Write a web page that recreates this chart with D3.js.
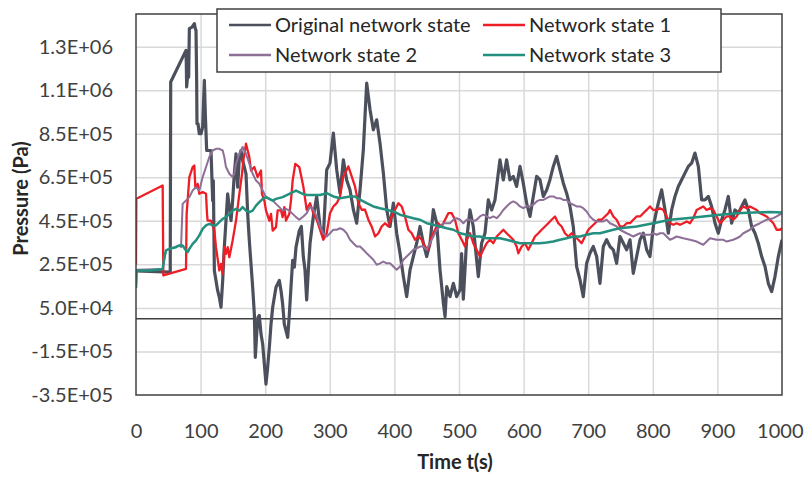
<!DOCTYPE html>
<html>
<head>
<meta charset="utf-8">
<script src="https://cdn.jsdelivr.net/npm/d3@7"></script>
<style>
  html, body { margin: 0; padding: 0; background: #ffffff; }
  svg { display: block; }
  text { font-family: Lato, "Open Sans", sans-serif; }
</style>
</head>
<body>
<svg id="chart" width="804" height="477"></svg>
<script>
// ---- data -------------------------------------------------------------
const seriesNames = ["Original network state", "Network state 1", "Network state 2", "Network state 3"];

const xTickValues = [0, 100, 200, 300, 400, 500, 600, 700, 800, 900, 1000];
const yTickValues = [-350000, -150000, 50000, 250000, 450000, 650000, 850000, 1050000, 1250000];
const yTickLabels = ["-3.5E+05", "-1.5E+05", "5.0E+04", "2.5E+05", "4.5E+05", "6.5E+05", "8.5E+05", "1.1E+06", "1.3E+06"];

// [time (s), pressure (Pa)]
const originalState = [[0,220e3],[53,214e3],[53.7,1088e3],[77.4,1233e3],[77.9,1172e3],[78.4,1065e3],[80,1118e3],[81.5,1110e3],[82.6,1333e3],[86.7,1340e3],[90.3,1356e3],[91.8,1333e3],[92.9,1325e3],[93.9,1095e3],[94.4,896e3],[96,896e3],[98,850e3],[100.6,850e3],[103.2,881e3],[105.8,1095e3],[107.3,942e3],[109.4,773e3],[116.1,773e3],[118.7,543e3],[119.7,635e3],[121.3,221e3],[123.8,176e3],[126.4,129e3],[129,99e3],[131.6,53e3],[134.2,176e3],[136.7,329e3],[139.3,451e3],[141.9,574e3],[144.5,513e3],[147.1,451e3],[149.6,543e3],[152.2,666e3],[154.8,758e3],[157.4,605e3],[160,743e3],[162.5,773e3],[165.1,727e3],[167.7,697e3],[170.3,666e3],[172.9,482e3],[175.4,360e3],[178,252e3],[180.6,145e3],[183.2,22e3],[184.7,-177e3],[186.8,-70e3],[188.9,7e3],[190.9,15e3],[193.5,-70e3],[196.1,-116e3],[198.7,-208e3],[201.2,-300e3],[203.8,-223e3],[206.4,-131e3],[209,-24e3],[211.6,53e3],[216.7,145e3],[221.9,176e3],[224.5,129e3],[227,68e3],[229.6,-24e3],[232.2,-54e3],[234.8,-85e3],[237.4,22e3],[239.9,145e3],[242.5,268e3],[245.1,237e3],[247.7,329e3],[252.8,405e3],[256,424e3],[259,286e3],[261.6,225e3],[264.2,87e3],[266.8,225e3],[269.4,347e3],[274.5,470e3],[279.7,562e3],[284.9,424e3],[290,378e3],[295.2,684e3],[300.3,715e3],[305.5,853e3],[310.7,684e3],[315.8,577e3],[321,730e3],[326.1,638e3],[331.3,592e3],[336.5,501e3],[341.6,439e3],[346.8,592e3],[351.9,776e3],[357.1,1083e3],[362.3,960e3],[367.4,868e3],[372.6,914e3],[377.7,807e3],[382.9,669e3],[388.1,501e3],[393.2,424e3],[398.4,531e3],[403.5,393e3],[408.7,301e3],[413.9,194e3],[419,102e3],[424.2,225e3],[429.3,286e3],[434.5,347e3],[439.7,424e3],[444.8,347e3],[450,286e3],[455.1,347e3],[460.3,501e3],[465.5,439e3],[470.6,225e3],[475.8,72e3],[478.4,10e3],[481,148e3],[486.1,102e3],[491.3,163e3],[496.4,102e3],[501.6,133e3],[504,300e3],[506.7,90e3],[511.8,363e3],[517,500e3],[522.1,424e3],[527.3,271e3],[529.9,194e3],[535,347e3],[540.2,393e3],[545.4,546e3],[550.5,500e3],[555.7,546e3],[560.8,669e3],[563.4,730e3],[568.6,638e3],[573.7,730e3],[578.9,638e3],[584.1,654e3],[589.2,608e3],[594.4,700e3],[599.5,623e3],[604.7,531e3],[609.9,470e3],[615,562e3],[620.2,654e3],[625.3,639e3],[630.5,562e3],[635.7,592e3],[640.8,639e3],[646,700e3],[651.1,746e3],[656.3,684e3],[661.5,623e3],[666.6,577e3],[671.8,516e3],[676.9,424e3],[682.1,240e3],[687.3,179e3],[692.4,102e3],[697.6,255e3],[702.7,301e3],[707.9,332e3],[713.1,286e3],[718.2,163e3],[723.4,332e3],[728.5,363e3],[733.7,332e3],[738.9,317e3],[744,255e3],[749.2,378e3],[754.4,347e3],[759.5,317e3],[764.7,363e3],[769.8,209e3],[775,286e3],[780.2,363e3],[785.3,393e3],[790.5,317e3],[795.6,286e3],[800.8,424e3],[806,500e3],[811.1,562e3],[813.7,592e3],[818.9,500e3],[824,393e3],[829.2,500e3],[834.3,562e3],[839.5,608e3],[844.7,639e3],[849.8,669e3],[855,700e3],[860.1,715e3],[865.3,761e3],[870.5,700e3],[875.6,546e3],[880.8,546e3],[886,562e3],[891.1,516e3],[896.3,439e3],[901.4,393e3],[906.6,455e3],[911.7,500e3],[916.9,562e3],[922.1,439e3],[927.2,500e3],[932.4,485e3],[937.5,516e3],[942.7,546e3],[947.9,500e3],[953,424e3],[958.2,393e3],[963.3,347e3],[968.5,286e3],[973.7,240e3],[978.8,163e3],[984,125e3],[989.1,194e3],[994.3,286e3],[1000,363e3]];

const networkState1 = [[0,250e3],[0.5,551e3],[41.3,612e3],[42.3,199e3],[77.4,229e3],[78.4,482e3],[82.6,651e3],[87.7,697e3],[90.3,704e3],[91.8,605e3],[95.5,620e3],[98,574e3],[103.2,582e3],[108.4,574e3],[109.9,482e3],[110.9,451e3],[116.1,451e3],[121.3,405e3],[123.8,329e3],[129,222e3],[131.6,252e3],[134.2,206e3],[136.7,329e3],[139.3,298e3],[141.9,329e3],[144.5,283e3],[149.6,360e3],[152.2,405e3],[154.8,451e3],[160,574e3],[164.1,666e3],[166.1,727e3],[170.3,804e3],[172.9,773e3],[175.4,743e3],[178,681e3],[183.2,697e3],[188.3,651e3],[193.5,681e3],[195,574e3],[198.7,543e3],[201.2,498e3],[206.4,451e3],[209,482e3],[211.6,405e3],[216.7,421e3],[219.3,498e3],[224.5,498e3],[227,467e3],[229.6,513e3],[232.2,451e3],[237.4,482e3],[239.9,543e3],[242.5,635e3],[246.6,712e3],[252.8,697e3],[259,608e3],[264.2,501e3],[269.4,531e3],[274.5,485e3],[279.7,455e3],[284.9,409e3],[290,363e3],[295.2,393e3],[300.3,485e3],[305.5,516e3],[310.7,531e3],[315.8,562e3],[321,654e3],[328.7,700e3],[333.9,654e3],[339,608e3],[344.2,531e3],[349.4,501e3],[354.5,501e3],[359.7,455e3],[364.8,424e3],[370,378e3],[375.2,393e3],[380.3,424e3],[385.5,439e3],[390.6,424e3],[395.8,470e3],[401,501e3],[406.1,531e3],[411.3,516e3],[416.4,470e3],[421.6,409e3],[426.8,393e3],[431.9,363e3],[437.1,378e3],[442.2,363e3],[447.4,332e3],[452.6,317e3],[457.7,378e3],[462.9,409e3],[468,439e3],[473.2,424e3],[478.4,455e3],[483.5,485e3],[488.7,485e3],[493.8,455e3],[499,393e3],[504.2,363e3],[509.3,332e3],[511.8,363e3],[517,393e3],[522.1,347e3],[527.3,317e3],[532.5,286e3],[537.6,317e3],[542.8,347e3],[547.9,363e3],[553.1,347e3],[558.3,378e3],[563.4,393e3],[568.6,409e3],[573.7,393e3],[578.9,378e3],[584.1,363e3],[589.2,332e3],[591.8,301e3],[597,332e3],[602.1,347e3],[607.3,317e3],[612.4,347e3],[617.6,378e3],[622.8,393e3],[627.9,409e3],[633.1,424e3],[638.2,439e3],[643.4,455e3],[648.6,470e3],[653.7,439e3],[658.9,424e3],[664,393e3],[669.2,378e3],[674.4,393e3],[679.5,378e3],[684.7,363e3],[689.8,347e3],[695,378e3],[700.2,409e3],[705.3,424e3],[710.5,439e3],[715.6,455e3],[720.8,455e3],[725.9,470e3],[731.1,485e3],[733.7,500e3],[738.9,470e3],[744,455e3],[749.2,424e3],[754.4,424e3],[759.5,439e3],[764.7,439e3],[769.8,455e3],[775,470e3],[780.2,470e3],[785.3,485e3],[790.5,500e3],[795.6,516e3],[800.8,500e3],[806,500e3],[811.1,508e3],[816.3,500e3],[821.4,470e3],[826.6,439e3],[831.8,432e3],[836.9,439e3],[842.1,432e3],[847.2,439e3],[852.4,447e3],[857.6,439e3],[862.7,462e3],[867.9,500e3],[873,508e3],[878.2,516e3],[883.4,500e3],[888.5,508e3],[893.7,500e3],[898.8,470e3],[904,439e3],[909.2,455e3],[914.3,470e3],[919.5,470e3],[924.6,455e3],[929.8,470e3],[935,500e3],[940.1,516e3],[945.3,508e3],[950.4,516e3],[955.6,508e3],[960.8,500e3],[965.9,485e3],[971.1,478e3],[976.2,470e3],[981.4,455e3],[986.6,439e3],[991.7,409e3],[996.8,409e3],[1000,416e3]];

const networkState2 = [[0,142e3],[1,225e3],[41.3,229e3],[46.4,314e3],[67.1,337e3],[69.7,329e3],[72.2,528e3],[77.4,543e3],[82.6,559e3],[87.7,589e3],[92.9,605e3],[98,589e3],[103.2,651e3],[108.4,697e3],[113.5,743e3],[118.7,773e3],[123.8,781e3],[129,781e3],[134.2,773e3],[136.7,743e3],[139.3,697e3],[144.5,666e3],[149.6,651e3],[152.2,666e3],[154.8,712e3],[160,758e3],[165.1,789e3],[170.3,758e3],[175.4,712e3],[180.6,666e3],[185.8,635e3],[190.9,620e3],[196.1,589e3],[201.2,559e3],[206.4,551e3],[211.6,543e3],[216.7,528e3],[221.9,513e3],[227,497e3],[232.2,505e3],[237.4,497e3],[242.5,482e3],[247.7,467e3],[252.8,455e3],[259,470e3],[264.2,485e3],[269.4,516e3],[274.5,501e3],[279.7,470e3],[284.9,424e3],[290,393e3],[295.2,378e3],[300.3,393e3],[305.5,409e3],[310.7,409e3],[315.8,416e3],[321,409e3],[326.1,393e3],[331.3,363e3],[336.5,347e3],[341.6,332e3],[346.8,332e3],[351.9,317e3],[357.1,301e3],[362.3,286e3],[367.4,271e3],[372.6,248e3],[377.7,255e3],[382.9,263e3],[388.1,255e3],[393.2,255e3],[398.4,240e3],[403.5,225e3],[408.7,240e3],[413.9,271e3],[419,286e3],[424.2,301e3],[429.3,317e3],[434.5,324e3],[439.7,332e3],[444.8,332e3],[450,317e3],[455.1,347e3],[460.3,378e3],[465.5,409e3],[470.6,424e3],[475.8,439e3],[481,439e3],[486.1,439e3],[491.3,455e3],[496.4,462e3],[501.6,455e3],[506.7,439e3],[511.8,455e3],[517,455e3],[522.1,447e3],[527.3,455e3],[532.5,470e3],[537.6,478e3],[542.8,470e3],[547.9,462e3],[553.1,470e3],[558.3,462e3],[563.4,478e3],[568.6,500e3],[573.7,516e3],[578.9,531e3],[584.1,539e3],[589.2,531e3],[594.4,516e3],[599.5,508e3],[604.7,516e3],[609.9,516e3],[615,524e3],[620.2,539e3],[625.3,546e3],[630.5,546e3],[635.7,554e3],[640.8,562e3],[646,562e3],[651.1,554e3],[656.3,554e3],[661.5,546e3],[666.6,546e3],[671.8,531e3],[676.9,524e3],[682.1,516e3],[687.3,516e3],[692.4,508e3],[697.6,493e3],[702.7,470e3],[707.9,455e3],[713.1,447e3],[718.2,447e3],[723.4,447e3],[728.5,455e3],[733.7,439e3],[738.9,432e3],[744,424e3],[749.2,409e3],[754.3,401e3],[759.5,393e3],[764.7,386e3],[769.8,378e3],[775,386e3],[780.2,393e3],[785.3,386e3],[795.6,386e3],[800.8,393e3],[806,386e3],[811.1,393e3],[816.3,393e3],[821.4,378e3],[826.6,363e3],[831.8,370e3],[836.9,378e3],[847.2,370e3],[857.6,363e3],[867.9,355e3],[873,347e3],[878.2,340e3],[883.4,355e3],[888.5,370e3],[898.8,363e3],[909.2,363e3],[914.3,355e3],[924.6,363e3],[929.8,370e3],[935,378e3],[940.1,393e3],[945.3,401e3],[950.4,409e3],[955.6,424e3],[960.8,432e3],[965.9,439e3],[971.1,447e3],[976.2,455e3],[986.6,462e3],[991.7,470e3],[1000,485e3]];

const networkState3 = [[0,142e3],[1,222e3],[20.6,222e3],[41.3,229e3],[43.9,283e3],[46.4,314e3],[51.6,321e3],[61.9,329e3],[67.1,337e3],[72.2,337e3],[77.4,314e3],[80,306e3],[82.6,321e3],[87.7,344e3],[92.9,360e3],[98,383e3],[103.2,413e3],[108.4,429e3],[113.5,436e3],[118.7,429e3],[123.8,429e3],[129,444e3],[134.2,459e3],[139.3,467e3],[144.5,482e3],[149.6,497e3],[154.8,505e3],[160,497e3],[165.1,513e3],[170.3,497e3],[175.4,490e3],[180.6,497e3],[185.8,520e3],[190.9,536e3],[196.1,551e3],[201.2,559e3],[206.4,551e3],[211.6,543e3],[216.7,551e3],[227,559e3],[237.4,574e3],[247.7,589e3],[258,574e3],[264.2,569e3],[274.5,569e3],[284.9,569e3],[295.2,577e3],[305.5,562e3],[315.8,554e3],[331.3,562e3],[339,562e3],[346.8,547e3],[357.1,531e3],[367.4,516e3],[377.7,508e3],[388.1,501e3],[398.4,493e3],[408.7,478e3],[419,470e3],[429.3,462e3],[439.7,455e3],[450,439e3],[460.3,432e3],[470.6,424e3],[481,416e3],[491.3,409e3],[501.6,393e3],[511.8,386e3],[522.1,378e3],[532.5,378e3],[542.8,370e3],[563.4,370e3],[573.7,363e3],[584.1,355e3],[594.4,347e3],[615,347e3],[625.3,347e3],[635.7,350e3],[646,355e3],[656.3,363e3],[666.6,370e3],[676.9,378e3],[687.3,378e3],[697.6,386e3],[707.9,393e3],[718.2,393e3],[728.5,401e3],[738.9,409e3],[749.2,416e3],[775,424e3],[800.8,439e3],[826.6,455e3],[852.4,462e3],[878.2,470e3],[904,478e3],[929.8,485e3],[955.6,488e3],[981.4,490e3],[1000,488e3]];

const seriesData = [originalState, networkState1, networkState2, networkState3];
const seriesColors = ["#4b505c", "#ee1d26", "#8d6f97", "#23907f"];
const seriesWidths = [3.2, 2.3, 2, 2.5];

// ---- layout -----------------------------------------------------------
const svg = d3.select("#chart");
const plot = { left: 136, top: 14, right: 782, bottom: 395 };

const x = d3.scaleLinear().domain([0, 1000]).range([plot.left, plot.right]);
const y = d3.scaleLinear().domain([-350000, 1400000]).range([plot.bottom, plot.top]);

const axisColor = "#404040";
const gridColor = "#d9d9d9";
const labelColor = "#404040";

// grid lines
svg.append("g")
  .attr("transform", `translate(0,${plot.bottom})`)
  .call(d3.axisBottom(x).tickValues(xTickValues.slice(1, -1)).tickSize(-(plot.bottom - plot.top)).tickFormat(""))
  .call(g => g.select(".domain").remove())
  .call(g => g.selectAll("line").attr("stroke", gridColor).attr("stroke-width", 1.5));

svg.append("g")
  .attr("transform", `translate(${plot.left},0)`)
  .call(d3.axisLeft(y).tickValues(yTickValues.slice(1)).tickSize(-(plot.right - plot.left)).tickFormat(""))
  .call(g => g.select(".domain").remove())
  .call(g => g.selectAll("line").attr("stroke", gridColor).attr("stroke-width", 1.5));

// zero reference line
svg.append("line")
  .attr("x1", plot.left).attr("x2", plot.right)
  .attr("y1", y(0)).attr("y2", y(0))
  .attr("stroke", axisColor).attr("stroke-width", 1.5);

// series
const line = d3.line().x(d => x(d[0])).y(d => y(d[1]));
svg.append("clipPath").attr("id", "plotClip")
  .append("rect").attr("x", plot.left).attr("y", plot.top)
  .attr("width", plot.right - plot.left).attr("height", plot.bottom - plot.top);

const linesG = svg.append("g").attr("clip-path", "url(#plotClip)");
seriesData.forEach((data, i) => {
  linesG.append("path")
    .datum(data)
    .attr("fill", "none")
    .attr("stroke", seriesColors[i])
    .attr("stroke-width", seriesWidths[i])
    .attr("stroke-linejoin", "round")
    .attr("d", line);
});

// plot frame
svg.append("rect")
  .attr("x", plot.left).attr("y", plot.top)
  .attr("width", plot.right - plot.left).attr("height", plot.bottom - plot.top)
  .attr("fill", "none").attr("stroke", axisColor).attr("stroke-width", 1.5);

// tick labels
const yAxis = svg.append("g")
  .attr("transform", `translate(${plot.left},0)`)
  .call(d3.axisLeft(y).tickValues(yTickValues).tickSize(0).tickPadding(23)
    .tickFormat((d, i) => yTickLabels[i]));
yAxis.select(".domain").remove();
yAxis.selectAll("text").attr("fill", labelColor).style("font-size", "20px").style("font-family", "Lato, sans-serif");

const xAxis = svg.append("g")
  .attr("transform", `translate(0,${plot.bottom})`)
  .call(d3.axisBottom(x).tickValues(xTickValues).tickSize(0).tickPadding(29).tickFormat(d3.format("d")));
xAxis.select(".domain").remove();
xAxis.selectAll("text").attr("fill", labelColor).style("font-size", "20px").style("font-family", "Lato, sans-serif");
// keep the last label inside the canvas
xAxis.selectAll(".tick").filter(d => d === 1000).select("text")
  .attr("text-anchor", "end").attr("x", 803 - x(1000));

// axis titles
svg.append("text")
  .attr("x", 455).attr("y", 469)
  .attr("text-anchor", "middle")
  .attr("fill", "#262626")
  .style("font-size", "20px").style("font-weight", "bold")
  .text("Time t(s)");

svg.append("text")
  .attr("transform", `translate(28,${(plot.top + plot.bottom) / 2 - 6}) rotate(-90)`)
  .attr("text-anchor", "middle")
  .attr("fill", "#262626")
  .style("font-size", "20px").style("font-weight", "bold")
  .text("Pressure (Pa)");

// legend
const legend = svg.append("g");
legend.append("rect")
  .attr("x", 217).attr("y", 9).attr("width", 504).attr("height", 63)
  .attr("fill", "#ffffff").attr("stroke", axisColor).attr("stroke-width", 1.5);

const legendPos = [[229, 25], [483, 25], [229, 55], [483, 55]];
seriesNames.forEach((name, i) => {
  const [lx, ly] = legendPos[i];
  legend.append("line")
    .attr("x1", lx).attr("x2", lx + 42).attr("y1", ly).attr("y2", ly)
    .attr("stroke", seriesColors[i]).attr("stroke-width", 2.5);
  legend.append("text")
    .attr("x", lx + 46).attr("y", ly).attr("dy", "0.35em")
    .attr("fill", "#262626")
    .style("font-size", "20px")
    .text(name);
});
</script>
</body>
</html>
